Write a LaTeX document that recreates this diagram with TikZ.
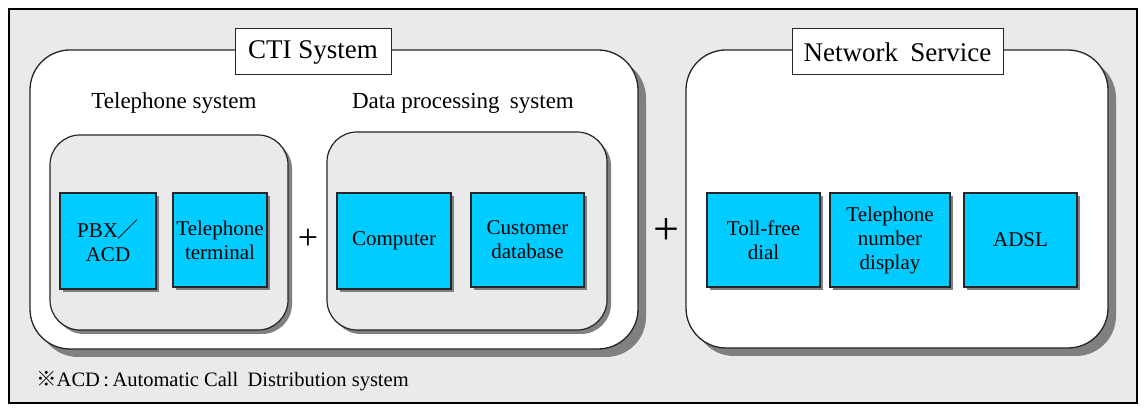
\documentclass[tikz,border=0pt]{standalone}
\usepackage{fontspec}
\setmainfont{Liberation Serif}
\newfontfamily\cjk{Noto Sans CJK JP}
\usetikzlibrary{positioning,shadows}
\definecolor{panelgray}{HTML}{EAEAEA}
\definecolor{shadegray}{HTML}{808080}
\definecolor{boxcyan}{HTML}{00CCFF}
\tikzset{
  bigpanel/.style={draw=black!85, line width=1.3pt, fill=white, rounded corners=40pt,
    drop shadow={shadow xshift=8pt, shadow yshift=-8pt, fill=shadegray, opacity=1}},
  subpanel/.style={draw=black!85, line width=1.2pt, fill=panelgray, rounded corners=30pt,
    drop shadow={shadow xshift=4pt, shadow yshift=-4pt, fill=shadegray, opacity=1}},
  unit/.style={draw=black!85, line width=1.2pt, fill=boxcyan, align=center, inner sep=0pt,
    font=\fontsize{21}{24}\selectfont,
    drop shadow={shadow xshift=3pt, shadow yshift=-3pt, fill=shadegray, opacity=1}},
  tag/.style={draw=black!85, line width=1pt, fill=white, inner sep=0pt, minimum height=46pt,
    font=\fontsize{27}{30}\selectfont},
  caption/.style={font=\fontsize{23}{26}\selectfont, inner sep=0pt}
}
\begin{document}
\begin{tikzpicture}[x=1pt, y=-1pt]
		%%%%% START %%%%%
		\useasboundingbox (0,0) rectangle (1146,411);
		
		\draw[line width=1.6pt, fill=panelgray] (9,9) rectangle (1137,403);
		
		% CTI system
		\draw[bigpanel] (30,50) rectangle (638,349);
		\node[tag, minimum width=156pt] (cti) at (313,52) {CTI System};
		
		\node[caption] (telcap) at (174,103) {Telephone system};
		\node[caption] (datacap) at (463,103) {Data processing\hspace{0.2em} system};
		
		\draw[subpanel] (50,135) rectangle (288,330);
		\draw[subpanel] (327,132) rectangle (607,330);
		
		\node[unit, minimum width=96pt, minimum height=96pt] (pbx) at (108,241) {PBX{\cjk ／}\\ACD};
		\node[unit, minimum width=94pt, minimum height=94pt] (term) at (220,240) {Telephone\\terminal};
		\node[font=\fontsize{36}{40}\selectfont] (plusa) at (308,239) {+};
		\node[unit, minimum width=114pt, minimum height=96pt] (comp) at (394,241) {Computer};
		\node[unit, minimum width=113pt, minimum height=94pt] (cdb) at (527.5,240) {Customer\\database};
		
		\node[font=\fontsize{46}{50}\selectfont] (plusb) at (666,232) {+};
		
		% network service
		\draw[bigpanel] (686,50) rectangle (1108,348);
		\node[tag, minimum width=211pt] (net) at (897.5,52) {Network\hspace{0.2em} Service};
		
		\node[unit, minimum width=113pt, minimum height=94pt] (toll) at (763.5,240) {Toll-free\\dial};
		\node[unit, minimum width=120pt, minimum height=94pt] (disp) at (890,240) {Telephone\\number\\display};
		\node[unit, minimum width=113pt, minimum height=94pt] (adsl) at (1020.5,240) {ADSL};
		
		\node[anchor=west, inner sep=0pt, font=\fontsize{20.5}{24}\selectfont] (note) at (36,381)
		  {{\cjk ※}ACD\,:\,Automatic Call\hspace{0.2em} Distribution system};
		
		%%%%% END %%%%%
	\end{tikzpicture}
\end{document}
